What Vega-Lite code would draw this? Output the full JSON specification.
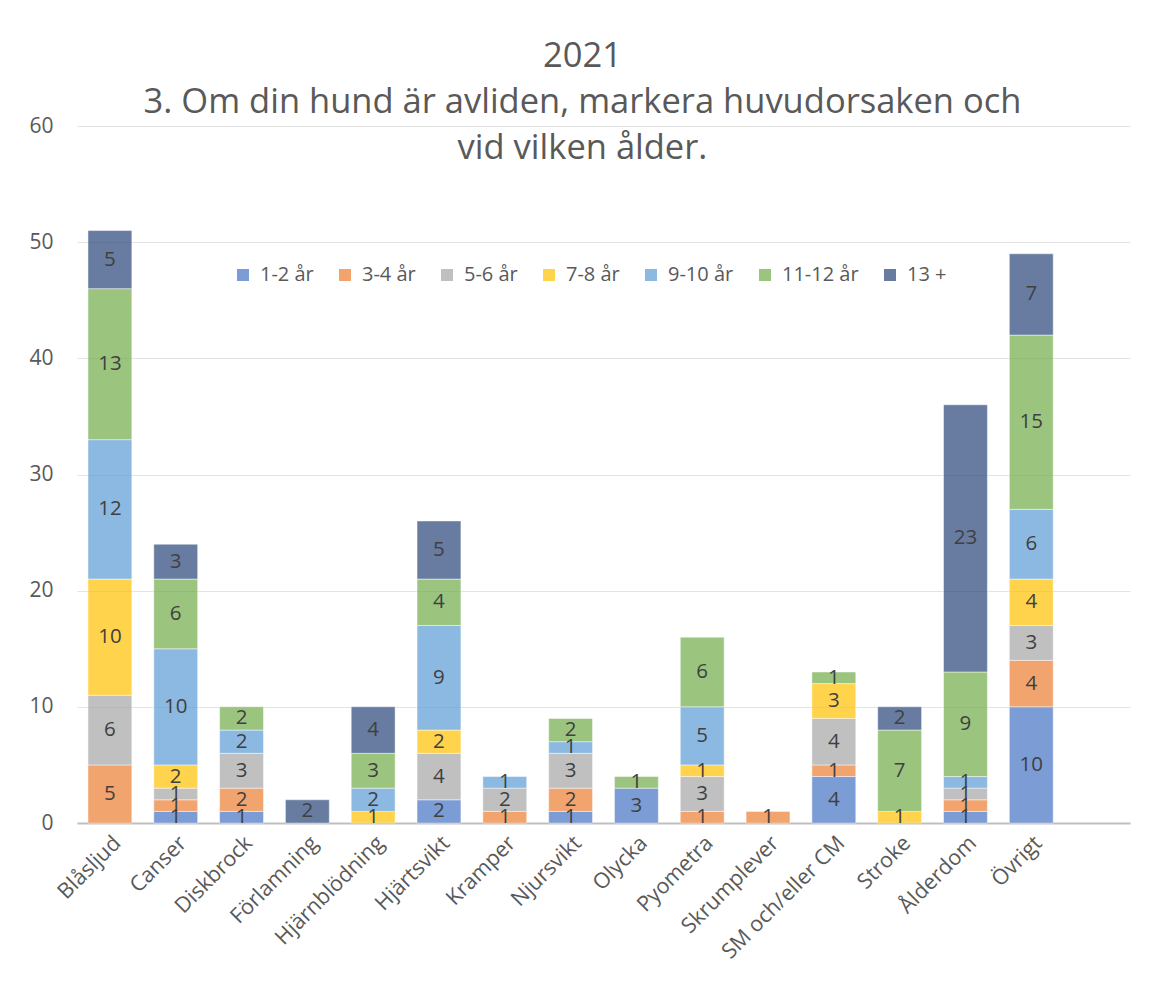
{
  "$schema": "https://vega.github.io/schema/vega-lite/v6.json",
  "width": 1053,
  "height": 697,
  "autosize": {"type": "none"},
  "padding": {"left": 77, "top": 126, "right": 19, "bottom": 164},
  "background": "white",
  "title": {
    "text": ["2021", "3. Om din hund är avliden, markera huvudorsaken och", "vid vilken ålder."],
    "anchor": "middle",
    "frame": "group",
    "font": "Open Sans",
    "fontSize": 34.5,
    "fontWeight": "normal",
    "color": "#595959",
    "lineHeight": 46,
    "baseline": "bottom",
    "offset": -85,
    "dx": -21
  },
  "data": {
    "values": [
      {"c": "Blåsljud", "a": "3-4 år", "o": 2, "v": 5},
      {"c": "Blåsljud", "a": "5-6 år", "o": 3, "v": 6},
      {"c": "Blåsljud", "a": "7-8 år", "o": 4, "v": 10},
      {"c": "Blåsljud", "a": "9-10 år", "o": 5, "v": 12},
      {"c": "Blåsljud", "a": "11-12 år", "o": 6, "v": 13},
      {"c": "Blåsljud", "a": "13 +", "o": 7, "v": 5},
      {"c": "Canser", "a": "1-2 år", "o": 1, "v": 1},
      {"c": "Canser", "a": "3-4 år", "o": 2, "v": 1},
      {"c": "Canser", "a": "5-6 år", "o": 3, "v": 1},
      {"c": "Canser", "a": "7-8 år", "o": 4, "v": 2},
      {"c": "Canser", "a": "9-10 år", "o": 5, "v": 10},
      {"c": "Canser", "a": "11-12 år", "o": 6, "v": 6},
      {"c": "Canser", "a": "13 +", "o": 7, "v": 3},
      {"c": "Diskbrock", "a": "1-2 år", "o": 1, "v": 1},
      {"c": "Diskbrock", "a": "3-4 år", "o": 2, "v": 2},
      {"c": "Diskbrock", "a": "5-6 år", "o": 3, "v": 3},
      {"c": "Diskbrock", "a": "9-10 år", "o": 5, "v": 2},
      {"c": "Diskbrock", "a": "11-12 år", "o": 6, "v": 2},
      {"c": "Förlamning", "a": "13 +", "o": 7, "v": 2},
      {"c": "Hjärnblödning", "a": "7-8 år", "o": 4, "v": 1},
      {"c": "Hjärnblödning", "a": "9-10 år", "o": 5, "v": 2},
      {"c": "Hjärnblödning", "a": "11-12 år", "o": 6, "v": 3},
      {"c": "Hjärnblödning", "a": "13 +", "o": 7, "v": 4},
      {"c": "Hjärtsvikt", "a": "1-2 år", "o": 1, "v": 2},
      {"c": "Hjärtsvikt", "a": "5-6 år", "o": 3, "v": 4},
      {"c": "Hjärtsvikt", "a": "7-8 år", "o": 4, "v": 2},
      {"c": "Hjärtsvikt", "a": "9-10 år", "o": 5, "v": 9},
      {"c": "Hjärtsvikt", "a": "11-12 år", "o": 6, "v": 4},
      {"c": "Hjärtsvikt", "a": "13 +", "o": 7, "v": 5},
      {"c": "Kramper", "a": "3-4 år", "o": 2, "v": 1},
      {"c": "Kramper", "a": "5-6 år", "o": 3, "v": 2},
      {"c": "Kramper", "a": "9-10 år", "o": 5, "v": 1},
      {"c": "Njursvikt", "a": "1-2 år", "o": 1, "v": 1},
      {"c": "Njursvikt", "a": "3-4 år", "o": 2, "v": 2},
      {"c": "Njursvikt", "a": "5-6 år", "o": 3, "v": 3},
      {"c": "Njursvikt", "a": "9-10 år", "o": 5, "v": 1},
      {"c": "Njursvikt", "a": "11-12 år", "o": 6, "v": 2},
      {"c": "Olycka", "a": "1-2 år", "o": 1, "v": 3},
      {"c": "Olycka", "a": "11-12 år", "o": 6, "v": 1},
      {"c": "Pyometra", "a": "3-4 år", "o": 2, "v": 1},
      {"c": "Pyometra", "a": "5-6 år", "o": 3, "v": 3},
      {"c": "Pyometra", "a": "7-8 år", "o": 4, "v": 1},
      {"c": "Pyometra", "a": "9-10 år", "o": 5, "v": 5},
      {"c": "Pyometra", "a": "11-12 år", "o": 6, "v": 6},
      {"c": "Skrumplever", "a": "3-4 år", "o": 2, "v": 1},
      {"c": "SM och/eller CM", "a": "1-2 år", "o": 1, "v": 4},
      {"c": "SM och/eller CM", "a": "3-4 år", "o": 2, "v": 1},
      {"c": "SM och/eller CM", "a": "5-6 år", "o": 3, "v": 4},
      {"c": "SM och/eller CM", "a": "7-8 år", "o": 4, "v": 3},
      {"c": "SM och/eller CM", "a": "11-12 år", "o": 6, "v": 1},
      {"c": "Stroke", "a": "7-8 år", "o": 4, "v": 1},
      {"c": "Stroke", "a": "11-12 år", "o": 6, "v": 7},
      {"c": "Stroke", "a": "13 +", "o": 7, "v": 2},
      {"c": "Ålderdom", "a": "1-2 år", "o": 1, "v": 1},
      {"c": "Ålderdom", "a": "3-4 år", "o": 2, "v": 1},
      {"c": "Ålderdom", "a": "5-6 år", "o": 3, "v": 1},
      {"c": "Ålderdom", "a": "9-10 år", "o": 5, "v": 1},
      {"c": "Ålderdom", "a": "11-12 år", "o": 6, "v": 9},
      {"c": "Ålderdom", "a": "13 +", "o": 7, "v": 23},
      {"c": "Övrigt", "a": "1-2 år", "o": 1, "v": 10},
      {"c": "Övrigt", "a": "3-4 år", "o": 2, "v": 4},
      {"c": "Övrigt", "a": "5-6 år", "o": 3, "v": 3},
      {"c": "Övrigt", "a": "7-8 år", "o": 4, "v": 4},
      {"c": "Övrigt", "a": "9-10 år", "o": 5, "v": 6},
      {"c": "Övrigt", "a": "11-12 år", "o": 6, "v": 15},
      {"c": "Övrigt", "a": "13 +", "o": 7, "v": 7}
    ]
  },
  "encoding": {
    "x": {
      "field": "c",
      "type": "nominal",
      "sort": null,
      "scale": {
        "domain": ["Blåsljud", "Canser", "Diskbrock", "Förlamning", "Hjärnblödning", "Hjärtsvikt", "Kramper", "Njursvikt", "Olycka", "Pyometra", "Skrumplever", "SM och/eller CM", "Stroke", "Ålderdom", "Övrigt", " "],
        "paddingInner": 0.333,
        "paddingOuter": 0.1667
      },
      "axis": {
        "title": null,
        "labelAngle": -45,
        "labelFont": "Open Sans",
        "labelFontSize": 21.5,
        "labelColor": "#595959",
        "labelLimit": 400,
        "labelPadding": 9,
        "ticks": false,
        "grid": false,
        "domainColor": "#BFBFBF",
        "domainWidth": 2
      }
    },
    "y": {
      "field": "v",
      "type": "quantitative",
      "stack": "zero",
      "scale": {"domain": [0, 60]},
      "axis": {
        "title": null,
        "values": [0, 10, 20, 30, 40, 50, 60],
        "labelFont": "Open Sans",
        "labelFontSize": 21,
        "labelColor": "#595959",
        "labelPadding": 24,
        "domain": false,
        "ticks": false,
        "gridColor": "#E3E3E3",
        "gridWidth": 1.2
      }
    },
    "order": {"field": "o", "type": "quantitative"}
  },
  "layer": [
    {
      "mark": {"type": "bar", "fillOpacity": 0.7, "stroke": "white", "strokeWidth": 0.8, "strokeOpacity": 0.6},
      "encoding": {
        "color": {
          "field": "a",
          "type": "nominal",
          "scale": {
            "domain": ["1-2 år", "3-4 år", "5-6 år", "7-8 år", "9-10 år", "11-12 år", "13 +"],
            "range": ["#4472C4", "#ED7D31", "#A5A5A5", "#FFC000", "#5B9BD5", "#70AD47", "#264478"]
          },
          "legend": {
            "title": null,
            "orient": "none",
            "legendX": 156,
            "legendY": 139,
            "direction": "horizontal",
            "symbolType": "square",
            "symbolSize": 144,
            "symbolOpacity": 0.7,
            "symbolStrokeWidth": 0,
            "labelFont": "Open Sans",
            "labelFontSize": 20,
            "labelColor": "#595959",
            "labelOffset": 7,
            "columnPadding": 21,
            "padding": 0
          }
        }
      }
    },
    {
      "mark": {"type": "text", "font": "Open Sans", "fontSize": 20.5, "color": "#404040", "baseline": "middle", "align": "center"},
      "encoding": {
        "y": {"field": "v", "type": "quantitative", "stack": "zero", "bandPosition": 0.5},
        "detail": {"field": "a", "type": "nominal"},
        "text": {"field": "v", "type": "quantitative"}
      }
    }
  ],
  "config": {"view": {"stroke": null}}
}
